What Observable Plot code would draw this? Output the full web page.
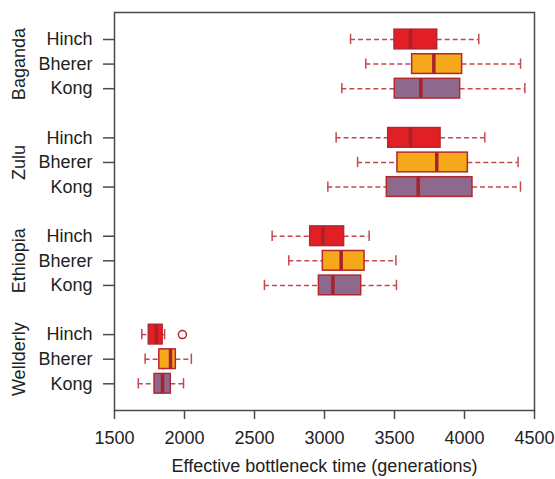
<!DOCTYPE html>
<html>
<head>
<meta charset="utf-8">
<script src="https://cdn.jsdelivr.net/npm/d3@7"></script>
<script src="https://cdn.jsdelivr.net/npm/@observablehq/plot@0.6"></script>
<style>
  html, body { margin: 0; padding: 0; background: #fff; }
</style>
</head>
<body>
<div id="chart"></div>
<script>
// ---- data ----
const groups = ["Baganda", "Zulu", "Ethiopia", "Wellderly"];
const maps = ["Hinch", "Bherer", "Kong"];
const mapColors = ["#e31f26", "#f6a81b", "#8e698c"];
// one entry per row, in order group x map
const whiskerLow  = [3186, 3295, 3124, 3083, 3236, 3024, 2626, 2745, 2571, 1695, 1719, 1670];
const q1          = [3500, 3626, 3502, 3455, 3521, 3445, 2898, 2988, 2960, 1745, 1820, 1786];
const median      = [3614, 3781, 3688, 3614, 3802, 3669, 2988, 3119, 3060, 1798, 1900, 1843];
const q3          = [3805, 3983, 3969, 3829, 4024, 4057, 3140, 3286, 3262, 1844, 1938, 1902];
const whiskerHigh = [4102, 4400, 4431, 4145, 4383, 4400, 3319, 3510, 3514, 1858, 2049, 1993];
const outlierGroup = ["Wellderly"];
const outlierMap = ["Hinch"];
const outlierValue = [1985];
const xTicks = [1500, 2000, 2500, 3000, 3500, 4000, 4500];
const xLabel = "Effective bottleneck time (generations)";

// ---- build table ----
const pos = (g, m) => groups.indexOf(g) * 4 + maps.indexOf(m) + 1;
const rows = [];
groups.forEach((g, gi) => maps.forEach((m, mi) => {
  const i = gi * 3 + mi;
  rows.push({group: g, map: m, p: pos(g, m), lo: whiskerLow[i], q1: q1[i], med: median[i], q3: q3[i], hi: whiskerHigh[i]});
}));
const outliers = outlierValue.map((v, i) => ({p: pos(outlierGroup[i], outlierMap[i]), v}));
const tickPos = rows.map(r => r.p);
const groupPos = groups.map((g, gi) => ({g, p: gi * 4 + 2}));

const half = 0.4, cap = 0.21;
const whiskerColor = "#c4494f";
const borderColor = "#b3282f";
const medianColor = "#a8222b";
const axisColor = "#4a4a4a";

const chart = Plot.plot({
  width: 555,
  height: 479,
  marginLeft: 114,
  marginRight: 21,
  marginTop: 12,
  marginBottom: 69,
  style: {fontFamily: "'Liberation Sans', Arial, sans-serif", fontSize: "18px", background: "#fff", color: "#222"},
  x: {domain: [1500, 4500]},
  y: {domain: [-0.098, 16.086], reverse: true},
  marks: [
    Plot.frame({stroke: axisColor, strokeWidth: 1.5}),
    Plot.axisX({ticks: xTicks, tickSize: 9, tickPadding: 12, tickFormat: d => String(d), stroke: axisColor, strokeWidth: 1.5, label: null}),
    Plot.axisY({ticks: tickPos, tickSize: 11, tickPadding: 11, tickFormat: d => maps[(d - 1) % 4], stroke: axisColor, strokeWidth: 1.5, label: null}),
    Plot.text(groupPos, {y: "p", text: "g", frameAnchor: "left", textAnchor: "middle", dx: -95, rotate: -90, fontSize: 18, fill: "#222"}),
    Plot.text([xLabel], {text: d => d, frameAnchor: "bottom", dy: 61, fontSize: 18, fill: "#222"}),
    // whiskers
    Plot.ruleY(rows, {y: "p", x1: "lo", x2: "q1", stroke: whiskerColor, strokeWidth: 1.5, strokeDasharray: "5,3"}),
    Plot.ruleY(rows, {y: "p", x1: "q3", x2: "hi", stroke: whiskerColor, strokeWidth: 1.5, strokeDasharray: "5,3"}),
    Plot.ruleX(rows, {x: "lo", y1: d => d.p - cap, y2: d => d.p + cap, stroke: whiskerColor, strokeWidth: 1.5}),
    Plot.ruleX(rows, {x: "hi", y1: d => d.p - cap, y2: d => d.p + cap, stroke: whiskerColor, strokeWidth: 1.5}),
    // boxes
    Plot.rect(rows, {x1: "q1", x2: "q3", y1: d => d.p - half, y2: d => d.p + half,
      fill: d => mapColors[maps.indexOf(d.map)], stroke: borderColor, strokeWidth: 1.5}),
    // medians
    Plot.ruleX(rows, {x: "med", y1: d => d.p - half, y2: d => d.p + half, stroke: medianColor, strokeWidth: 3.5}),
    // outliers
    Plot.dot(outliers, {x: "v", y: "p", r: 4, stroke: borderColor, strokeWidth: 1.5, fill: "none"})
  ]
});
document.getElementById("chart").appendChild(chart);
</script>
</body>
</html>
